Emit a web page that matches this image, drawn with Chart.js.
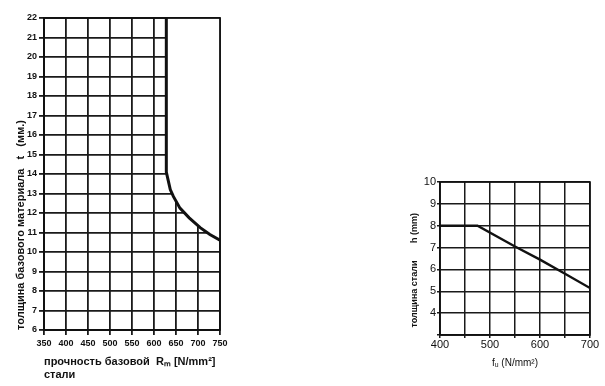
<!DOCTYPE html>
<html>
<head>
<meta charset="utf-8">
<script src="https://cdn.jsdelivr.net/npm/chart.js@4"></script>
<style>
  html, body { margin: 0; padding: 0; background: #fff; }
  body { width: 605px; height: 386px; position: relative; overflow: hidden; }
  .box { position: absolute; }
</style>
</head>
<body>
<div class="box" style="left:0;top:0;width:260px;height:386px"><canvas id="leftChart"></canvas></div>
<div class="box" style="left:380px;top:170px;width:225px;height:216px"><canvas id="rightChart"></canvas></div>
<script>
// left chart: base steel strength Rm vs thickness t
const strengthRm = [628, 628, 632, 637, 644, 659, 680, 705, 727, 750];
const thicknessT = [22, 14.1, 13.7, 13.2, 12.85, 12.25, 11.75, 11.25, 10.9, 10.6];

// right chart: fu vs h
const strengthFu = [400, 475, 550, 600, 650, 700];
const thicknessH = [8, 8, 7.05, 6.45, 5.8, 5.15];
const rightXLabels = [400, 500, 600, 700];
const rightYLabels = [4, 5, 6, 7, 8, 9, 10];

Chart.defaults.font.family = "'Liberation Sans', Arial, sans-serif";
Chart.defaults.color = "#111";

// frame redrawn on top of the white fill
const framePlugin = {
  id: "frame",
  afterDatasetsDraw(chart, args, opts) {
    const a = chart.chartArea;
    const ctx = chart.ctx;
    ctx.save();
    ctx.strokeStyle = "#111";
    ctx.lineWidth = opts.width || 1.5;
    ctx.strokeRect(a.left, a.top, a.right - a.left, a.bottom - a.top);
    ctx.restore();
  },
};

document.addEventListener("DOMContentLoaded", function () {
  // LEFT CHART
  new Chart(document.getElementById("leftChart"), {
    type: "line",
    data: {
      datasets: [
        {
          data: strengthRm.map((x, i) => ({ x: x, y: thicknessT[i] })),
          borderColor: "#111",
          borderWidth: 3,
          pointRadius: 0,
          fill: "end",
          backgroundColor: "#fff",
          tension: 0,
        },
      ],
    },
    options: {
      responsive: true,
      maintainAspectRatio: false,
      animation: false,
      layout: { padding: { top: 18, right: 40, left: 0, bottom: 0 } },
      plugins: {
        legend: { display: false },
        tooltip: { enabled: false },
        frame: { width: 1.8 },
      },
      scales: {
        x: {
          type: "linear",
          min: 350,
          max: 750,
          ticks: { stepSize: 50, autoSkip: false, maxRotation: 0, padding: 3, font: { size: 9, weight: "bold" } },
          grid: { color: "#1a1a1a", lineWidth: 1.8, tickLength: 5 },
          border: { color: "#111", width: 1.8 },
          title: {
            display: true,
            text: ["прочность базовой  Rₘ [N/mm²]", "стали"],
            align: "start",
            font: { size: 11, weight: "bold" },
            padding: { top: 0, bottom: 4 },
          },
          afterFit(s) { s.height = 56; },
        },
        y: {
          min: 6,
          max: 22,
          ticks: { stepSize: 1, autoSkip: false, padding: 2, font: { size: 9, weight: "bold" } },
          grid: { color: "#1a1a1a", lineWidth: 1.8, tickLength: 5 },
          border: { color: "#111", width: 1.8 },
          title: {
            display: true,
            text: "толщина базового материала   t   (мм.)",
            align: "start",
            font: { size: 11, weight: "bold" },
            padding: { top: 14, bottom: 0 },
          },
          afterFit(s) { s.width = 44; },
        },
      },
    },
    plugins: [framePlugin],
  });

  // RIGHT CHART
  new Chart(document.getElementById("rightChart"), {
    type: "line",
    data: {
      datasets: [
        {
          data: strengthFu.map((x, i) => ({ x: x, y: thicknessH[i] })),
          borderColor: "#111",
          borderWidth: 2.4,
          pointRadius: 0,
          fill: false,
          tension: 0,
        },
      ],
    },
    options: {
      responsive: true,
      maintainAspectRatio: false,
      animation: false,
      layout: { padding: { top: 12, right: 15, left: 0, bottom: 0 } },
      plugins: {
        legend: { display: false },
        tooltip: { enabled: false },
        frame: { width: 1.6 },
      },
      scales: {
        x: {
          type: "linear",
          min: 400,
          max: 700,
          ticks: {
            stepSize: 50,
            autoSkip: false,
            maxRotation: 0,
            padding: 0,
            font: { size: 11 },
            callback: (v) => (rightXLabels.includes(v) ? v : ""),
          },
          grid: { color: "#1a1a1a", lineWidth: 1.5, tickLength: 3 },
          border: { color: "#111", width: 1.6 },
          title: {
            display: true,
            text: "fᵤ (N/mm²)",
            font: { size: 10 },
            padding: { top: 0, bottom: 17 },
          },
          afterFit(s) { s.height = 51; },
        },
        y: {
          min: 3,
          max: 10,
          ticks: {
            stepSize: 1,
            autoSkip: false,
            padding: 1,
            font: { size: 11 },
            callback: (v) => (rightYLabels.includes(v) ? v : ""),
          },
          grid: { color: "#1a1a1a", lineWidth: 1.5, tickLength: 3 },
          border: { color: "#111", width: 1.6 },
          title: {
            display: true,
            text: "   толщина стали       h (mm)",
            align: "start",
            font: { size: 9, weight: "bold" },
            padding: { top: 29, bottom: 0 },
          },
          afterFit(s) { s.width = 60; },
        },
      },
    },
    plugins: [framePlugin],
  });
});
</script>
</body>
</html>
